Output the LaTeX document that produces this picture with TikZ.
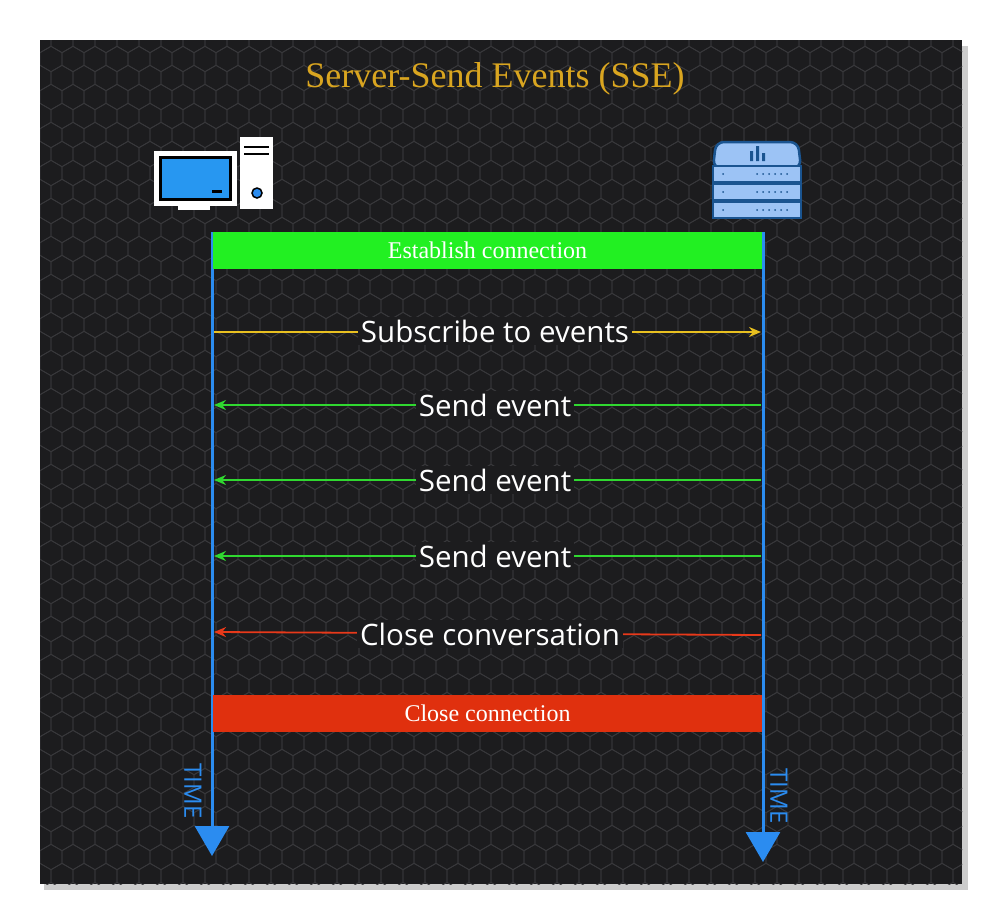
\documentclass[tikz,border=0pt]{standalone}
\usepackage{fontspec}
\setmainfont{Liberation Serif}
\newfontfamily\lbl{Open Sans}
\usetikzlibrary{arrows.meta}
\definecolor{bg}{HTML}{1C1C1E}
\definecolor{hexc}{HTML}{38383B}
\definecolor{gold}{HTML}{D9A520}
\definecolor{tblue}{HTML}{2B8CF0}
\definecolor{lgreen}{HTML}{22F022}
\definecolor{cyel}{HTML}{E8C020}
\definecolor{cgreen}{HTML}{30D830}
\definecolor{cred}{HTML}{E8391A}
\definecolor{barred}{HTML}{E0300E}
\definecolor{srv}{HTML}{9CC3F5}
\tikzset{
  msg/.style={font=\lbl\fontsize{29.5}{31}\selectfont, text=white, fill=bg, inner sep=3pt},
  bar/.style={font=\fontsize{24}{26}\selectfont, text=white, minimum height=37, inner sep=0},
  life/.style={tblue, line width=3, -{Triangle[width=34,length=30]}},
  timel/.style={font=\lbl\fontsize{24}{26}\selectfont, text=tblue, rotate=-90},
  arr/.style={line width=1.8, -{Stealth[length=12,width=10]}}
}
\begin{document}
\begin{tikzpicture}[x=1pt,y=-1pt]
\useasboundingbox (0,0) rectangle (1002,924);
\fill[white] (0,0) rectangle (1002,924);
\fill[gray!40] (44,46) rectangle (968,890);
\fill[bg] (40,40) rectangle (962,884);
\begin{scope}
\clip (40,40) rectangle (962,884);
\foreach \r in {0,...,44} {
  \foreach \c in {0,...,44} {
    \pgfmathsetmacro{\cx}{40+\c*22+mod(\r,2)*11}
    \pgfmathsetmacro{\cy}{40+\r*19}
    \draw[hexc, line width=0.8] (\cx,\cy-12.7) -- (\cx+11,\cy-6.35) -- (\cx+11,\cy+6.35) -- (\cx,\cy+12.7) -- (\cx-11,\cy+6.35) -- (\cx-11,\cy-6.35) -- cycle;
  }
}
\end{scope}
\node[text=gold, font=\fontsize{36}{40}\selectfont] (title) at (495,79) {Server-Send Events (SSE)};
% client icon
\draw[white, line width=2, fill=white] (155,152) rectangle (236,205);
\fill[black] (159,156) rectangle (232,201);
\fill[tblue!90!cyan] (162,159) rectangle (229,198);
\fill[black] (212,190) rectangle (222,193);
\fill[white] (178,205) rectangle (210,210);
\fill[white] (240,137) rectangle (273,209);
\draw[black, line width=1.5] (244,147) -- (269,147) (244,154) -- (269,154);
\draw[black, line width=1.5, fill=tblue] (257,193) circle (5);
\node (client) at (214,180) {};
% server icon
\node (server) at (757,180) {};
\draw[tblue!60!black, line width=2.5, fill=srv, rounded corners=8] (713,168) -- (716,142) -- (798,142) -- (801,168) -- cycle;
\foreach \y in {166,184,202} \draw[tblue!60!black, line width=2.5, fill=srv] (713,\y) rectangle (801,\y+16);
\fill[tblue!60!black] (750,151) rectangle (753,161) (756,146) rectangle (759,161) (762,153) rectangle (765,161);
\foreach \y in {174,192,210} {
  \fill[tblue!60!black] (723,\y) circle (1);
  \foreach \k in {0,...,5} \fill[tblue!60!black] (757+\k*6,\y) circle (1);
}
% lifelines
\coordinate (ltop) at (212,232);
\coordinate (lbot) at (212,856);
\coordinate (rtop) at (763,232);
\coordinate (rbot) at (763,862);
\draw[life] (ltop) -- (lbot);
\draw[life] (rtop) -- (rbot);
\node[timel] (t1) at (193,791) {TIME};
\node[timel] (t2) at (779,796) {TIME};
% bars
\node[bar, fill=lgreen, minimum width=549] (est) at (487.5,250) {Establish connection};
\node[bar, fill=barred, minimum width=549] (close) at (487.5,713) {Close connection};
% messages
\coordinate (a1) at (214,332); \coordinate (b1) at (761,332);
\draw[arr, cyel] (a1) -- (b1);
\node[msg] (m1) at (495,331) {Subscribe to events};
\foreach \y/\n in {405/m2,480/m3,556/m4} {
  \coordinate (s\n) at (761,\y); \coordinate (e\n) at (214,\y);
  \draw[arr, cgreen] (s\n) -- (e\n);
  \node[msg] (\n) at (495,\y) {Send event};
}
\coordinate (s5) at (761,635); \coordinate (e5) at (214,632);
\draw[arr, cred] (s5) -- (e5);
\node[msg] (m5) at (490,634) {Close conversation};
\end{tikzpicture}
\end{document}
